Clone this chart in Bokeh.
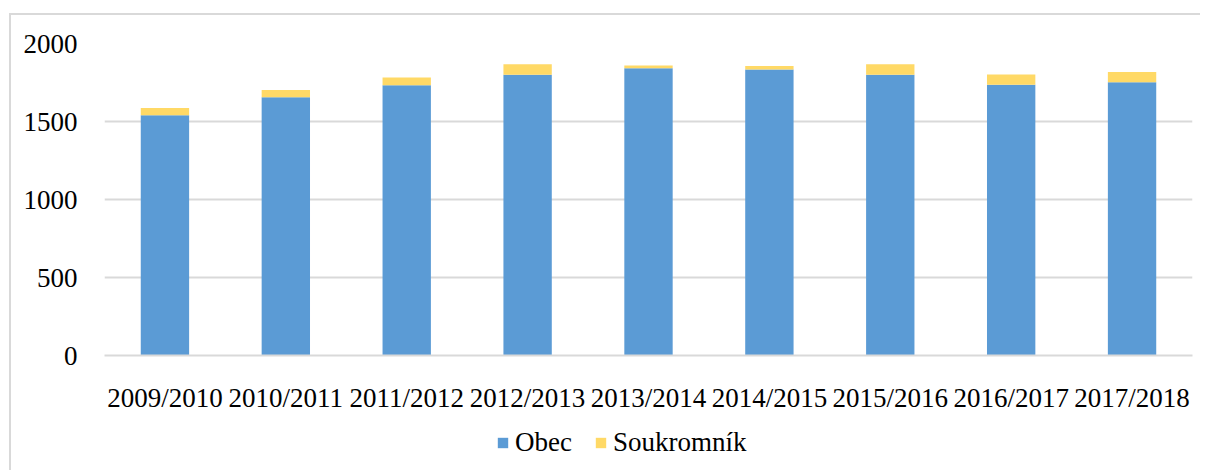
from bokeh.plotting import figure
from bokeh.layouts import column
from bokeh.models import FactorRange, Legend, LegendItem
from bokeh.embed import file_html
from bokeh.resources import INLINE

years = ["2009/2010", "2010/2011", "2011/2012", "2012/2013", "2013/2014",
         "2014/2015", "2015/2016", "2016/2017", "2017/2018"]
obec = [1540, 1655, 1733, 1799, 1842, 1833, 1799, 1735, 1751]
soukromnik = [47, 47, 49, 68, 17, 23, 68, 66, 67]
series = ["Obec", "Soukromník"]
colors = ["#5B9BD5", "#FFD966"]
y_ticks = [0, 500, 1000, 1500, 2000]

data = {"years": years, "Obec": obec, "Soukromník": soukromnik}

FONT = "Liberation Serif"
FSIZE = "27px"

p = figure(x_range=FactorRange(*years), y_range=(0, 2000),
           width=1189, height=400, output_backend="svg", toolbar_location=None,
           min_border_left=93, min_border_right=8, min_border_top=28,
           min_border_bottom=58)

p.vbar_stack(series, x="years", width=0.4, color=colors,
             line_color=None, source=data)

p.outline_line_color = None
p.xgrid.grid_line_color = None
p.ygrid.grid_line_color = "#d9d9d9"
p.ygrid.grid_line_width = 2
p.yaxis.ticker = y_ticks

p.yaxis.axis_line_color = None
p.yaxis.major_tick_line_color = None
p.yaxis.minor_tick_line_color = None
p.yaxis.major_label_standoff = 21
p.xaxis.axis_line_color = "#d9d9d9"
p.xaxis.axis_line_width = 2
p.xaxis.major_tick_line_color = None
p.xaxis.minor_tick_line_color = None
p.xaxis.major_label_standoff = 21
for ax in (p.xaxis, p.yaxis):
    ax.major_label_text_font = FONT
    ax.major_label_text_font_size = FSIZE
    ax.major_label_text_color = "#000000"

# legend strip below the chart (frame is aligned with the chart's frame)
lg = figure(width=1189, height=55, output_backend="svg", toolbar_location=None,
            x_axis_location=None, y_axis_location=None,
            min_border_left=93, min_border_right=8, min_border_top=0,
            min_border_bottom=0, x_range=(0, 1), y_range=(0, 1))
lg.outline_line_color = None
lg.grid.visible = False
dummies = [lg.vbar(x=[0.5], top=[0], bottom=[0], width=0.0, color=c,
                   line_color=None) for c in colors]

legend = Legend(items=[LegendItem(label=s, renderers=[r]) for s, r in zip(series, dummies)],
                orientation="horizontal", location=(392, 12),
                glyph_width=13, glyph_height=13, label_height=30,
                label_standoff=6, spacing=22, padding=0, margin=0,
                border_line_color=None, background_fill_alpha=0,
                label_text_font=FONT, label_text_font_size=FSIZE,
                label_text_color="#000000")
lg.add_layout(legend, "center")

layout = column(p, lg, spacing=0)
layout.styles = {"margin-left": "9px", "margin-top": "13px",
                 "border-left": "2px solid #d9d9d9", "border-top": "2px solid #d9d9d9"}

open("out.html", "w").write(file_html(layout, INLINE))
